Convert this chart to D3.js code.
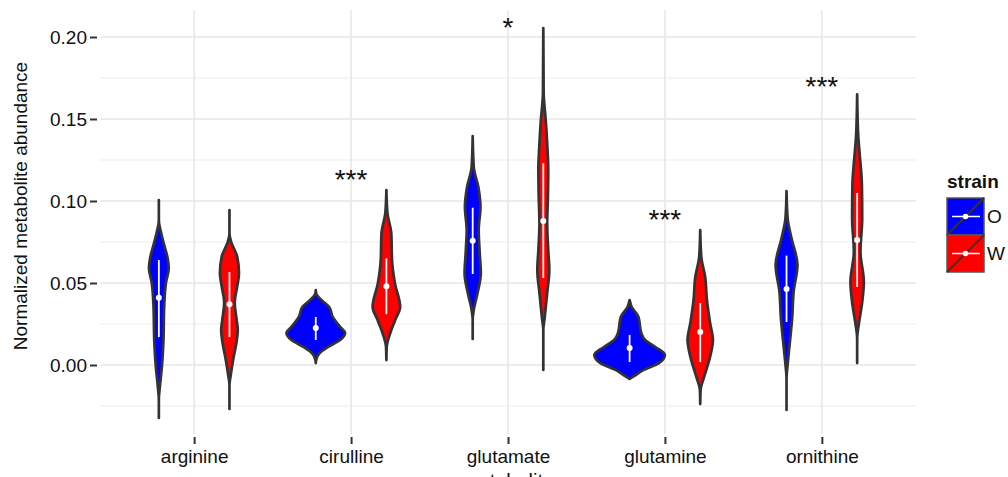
<!DOCTYPE html>
<html>
<head>
<meta charset="utf-8">
<script src="https://cdn.jsdelivr.net/npm/d3@7"></script>
<style>
html,body{margin:0;padding:0;background:#fff;}
svg{display:block;font-family:"Liberation Sans",Arial,sans-serif;}
</style>
</head>
<body>
<svg id="chart" width="1008" height="477"></svg>
<script>
// ---- data ----
const categories = ["arginine", "cirulline", "glutamate", "glutamine", "ornithine"];
const strains = ["O", "W"];
const yTicks = [0.00, 0.05, 0.10, 0.15, 0.20];
const yMinorTicks = [-0.025, 0.025, 0.075, 0.125, 0.175];

// density profiles: [value, relative half-width]
const violinO = [
  [[0.1006,0],[0.088,0],[0.081,0.06],[0.074,0.14],[0.066,0.24],[0.059,0.28],[0.05,0.2],[0.035,0.15],[0.015,0.13],[-0.001,0.086],[-0.013,0.03],[-0.021,0],[-0.0323,0]],
  [[0.0457,0],[0.0437,0.01],[0.0396,0.16],[0.0354,0.38],[0.0293,0.48],[0.0232,0.69],[0.0195,0.83],[0.0152,0.69],[0.011,0.35],[0.0073,0.11],[0.003,0.01],[0.0012,0]],
  [[0.1396,0],[0.1207,0.03],[0.1085,0.16],[0.0963,0.22],[0.0823,0.17],[0.068,0.2],[0.056,0.23],[0.044,0.14],[0.0335,0.03],[0.028,0],[0.0159,0]],
  [[0.0396,0],[0.0354,0.06],[0.0293,0.25],[0.0195,0.33],[0.0152,0.44],[0.011,0.73],[0.0061,1.0],[0.0012,0.83],[-0.003,0.4],[-0.0073,0.09],[-0.0085,0]],
  [[0.106,0],[0.0896,0.03],[0.0774,0.14],[0.061,0.31],[0.0445,0.2],[0.0287,0.16],[0.0122,0.086],[0,0.03],[-0.008,0],[-0.0274,0]]
];
const violinW = [
  [[0.0945,0],[0.08,0],[0.075,0.05],[0.066,0.22],[0.056,0.27],[0.048,0.22],[0.038,0.15],[0.028,0.2],[0.0213,0.235],[0.014,0.2],[0.005,0.12],[-0.007,0.03],[-0.012,0],[-0.0268,0]],
  [[0.1067,0],[0.0927,0.03],[0.080,0.14],[0.064,0.16],[0.050,0.24],[0.0354,0.39],[0.0274,0.25],[0.0195,0.11],[0.011,0.01],[0.003,0]],
  [[0.2055,0],[0.166,0.01],[0.149,0.07],[0.135,0.11],[0.119,0.14],[0.1024,0.13],[0.0866,0.11],[0.070,0.14],[0.058,0.17],[0.044,0.11],[0.029,0.04],[0.0213,0],[-0.003,0]],
  [[0.0823,0],[0.066,0.03],[0.0537,0.14],[0.0396,0.19],[0.0256,0.28],[0.0152,0.36],[0.005,0.28],[-0.0073,0.11],[-0.0152,0.01],[-0.0238,0]],
  [[0.165,0],[0.140,0.03],[0.130,0.066],[0.110,0.134],[0.0896,0.143],[0.069,0.094],[0.0506,0.19],[0.0384,0.143],[0.0244,0.043],[0.0165,0],[0.0012,0]]
];

// summary (mean ± sd)
const meanO = [0.041, 0.0226, 0.0758, 0.0104, 0.0463];
const lowO  = [0.017, 0.0152, 0.0555, 0.0018, 0.0262];
const highO = [0.064, 0.0293, 0.0959, 0.0183, 0.0667];
const meanW = [0.037, 0.048, 0.0878, 0.0201, 0.0762];
const lowW  = [0.017, 0.031, 0.053, 0.0018, 0.0476];
const highW = [0.0567, 0.065, 0.123, 0.0378, 0.1049];

// significance labels
const sigLabels = ["", "***", "*", "***", "***"];
const sigY = [0, 0.117, 0.210, 0.0925, 0.174];

// ---- layout ----
const colors = {O: "#0000ff", W: "#ff0000"};
const panel = {left: 100, right: 916, top: 10, bottom: 434};
const svg = d3.select("#chart");

const x = d3.scalePoint().domain(categories).range([panel.left, panel.right]).padding(0.6);
const step = x.step();
const y = d3.scaleLinear()
  .domain([(365 - panel.bottom) / 1640, (365 - panel.top) / 1640])
  .range([panel.bottom, panel.top]);

// gridlines
const grid = svg.append("g");
grid.selectAll(".minor").data(yMinorTicks).enter().append("line")
  .attr("x1", panel.left).attr("x2", panel.right)
  .attr("y1", d => y(d)).attr("y2", d => y(d))
  .attr("stroke", "#f3f3f3").attr("stroke-width", 1.5);
grid.selectAll(".major").data(yTicks).enter().append("line")
  .attr("x1", panel.left).attr("x2", panel.right)
  .attr("y1", d => y(d)).attr("y2", d => y(d))
  .attr("stroke", "#e6e6e6").attr("stroke-width", 1.5);
grid.selectAll(".vmajor").data(categories).enter().append("line")
  .attr("x1", d => x(d)).attr("x2", d => x(d))
  .attr("y1", panel.top).attr("y2", panel.bottom)
  .attr("stroke", "#e6e6e6").attr("stroke-width", 1.5);

// axes
const yAxis = d3.axisLeft(y).tickValues(yTicks).tickFormat(d3.format(".2f")).tickSize(7).tickPadding(3);
const yg = svg.append("g").attr("transform", `translate(${panel.left - 3},0)`).call(yAxis);
yg.select(".domain").remove();
yg.selectAll(".tick line").attr("stroke", "#333").attr("stroke-width", 2);
yg.selectAll(".tick text").attr("fill", "#111").style("font-size", "19px").attr("dy", "0.36em");

const xAxis = d3.axisBottom(x).tickSize(7).tickPadding(6);
const xg = svg.append("g").attr("transform", `translate(0,${panel.bottom + 3})`).call(xAxis);
xg.select(".domain").remove();
xg.selectAll(".tick line").attr("stroke", "#333").attr("stroke-width", 2);
xg.selectAll(".tick text").attr("fill", "#111").style("font-size", "19px").attr("dy", "0.71em");

// violins
const half = 0.225 * step;
const offsets = {O: -0.225 * step, W: 0.225 * step};
function drawViolins(profiles, strain) {
  const g = svg.append("g");
  profiles.forEach((prof, i) => {
    const cx = x(categories[i]) + offsets[strain];
    const area = d3.area()
      .y(d => y(d[0]))
      .x0(d => cx - d[1] * half)
      .x1(d => cx + d[1] * half)
      .curve(d3.curveMonotoneY);
    g.append("path").attr("d", area(prof))
      .attr("fill", colors[strain])
      .attr("stroke", "#333").attr("stroke-width", 2.7).attr("stroke-linejoin", "round");
  });
}
drawViolins(violinO, "O");
drawViolins(violinW, "W");

function drawSummary(mean, low, high, strain) {
  const g = svg.append("g");
  categories.forEach((c, i) => {
    const cx = x(c) + offsets[strain];
    g.append("line").attr("x1", cx).attr("x2", cx)
      .attr("y1", y(low[i])).attr("y2", y(high[i]))
      .attr("stroke", "#fff").attr("stroke-width", 1.8);
    g.append("circle").attr("cx", cx).attr("cy", y(mean[i])).attr("r", 3)
      .attr("fill", "#fff");
  });
}
drawSummary(meanO, lowO, highO, "O");
drawSummary(meanW, lowW, highW, "W");

// significance labels
svg.append("g").selectAll("text").data(categories).enter().append("text")
  .attr("x", d => x(d))
  .attr("y", (d, i) => y(sigY[i]) + 16)
  .attr("text-anchor", "middle")
  .style("font-size", "28px").attr("fill", "#111")
  .text((d, i) => sigLabels[i]);

// axis titles
svg.append("text")
  .attr("transform", `translate(27,${(panel.top + panel.bottom) / 2 - 16}) rotate(-90)`)
  .attr("text-anchor", "middle").style("font-size", "19px").attr("fill", "#111")
  .text("Normalized metabolite abundance");
svg.append("text")
  .attr("x", (panel.left + panel.right) / 2).attr("y", 488)
  .attr("text-anchor", "middle").style("font-size", "20px").attr("fill", "#111")
  .text("metabolite");

// legend
const lg = svg.append("g");
lg.append("text").attr("x", 947).attr("y", 188)
  .style("font-size", "19px").style("font-weight", "bold").attr("fill", "#111")
  .text("strain");
const keySize = 37;
strains.forEach((s, i) => {
  const ky = 198 + i * keySize;
  const kg = lg.append("g").attr("transform", `translate(947,${ky})`);
  kg.append("rect").attr("width", keySize).attr("height", keySize)
    .attr("fill", colors[s]).attr("stroke", "#555").attr("stroke-width", 1.5);
  kg.append("line").attr("x1", 0).attr("y1", keySize).attr("x2", keySize).attr("y2", 0)
    .attr("stroke", "#333").attr("stroke-width", 1.8);
  kg.append("line").attr("x1", 5).attr("x2", keySize - 4)
    .attr("y1", keySize / 2).attr("y2", keySize / 2)
    .attr("stroke", "#fff").attr("stroke-width", 1.5);
  kg.append("circle").attr("cx", keySize / 2).attr("cy", keySize / 2).attr("r", 2.8).attr("fill", "#fff");
  lg.append("text").attr("x", keySize + 950).attr("y", ky + keySize / 2)
    .attr("dy", "0.36em").style("font-size", "19px").attr("fill", "#111").text(s);
});
</script>
</body>
</html>
